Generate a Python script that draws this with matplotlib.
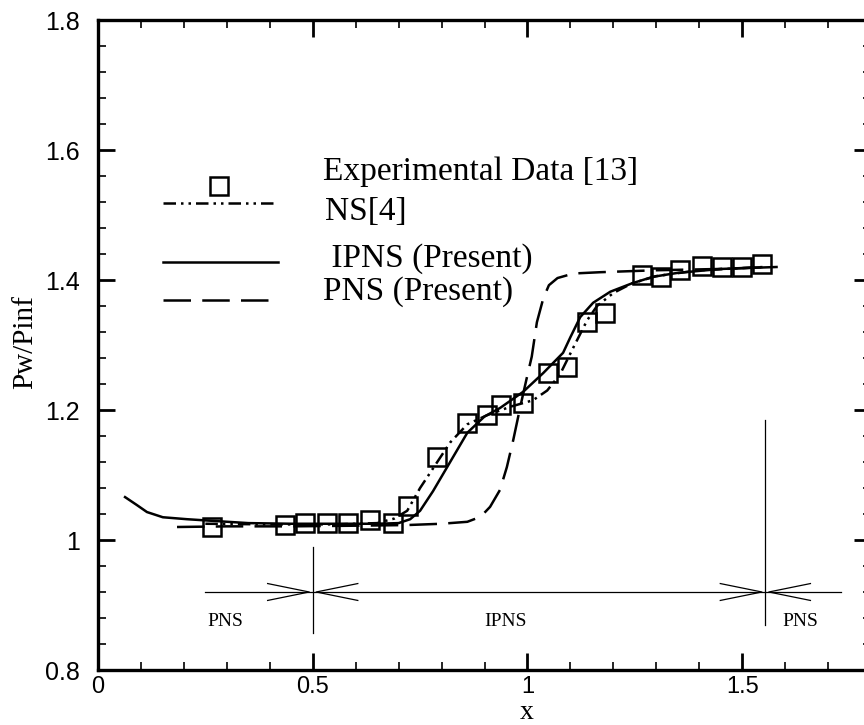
import matplotlib
matplotlib.use("Agg")
import matplotlib.pyplot as plt
from matplotlib.ticker import MultipleLocator, FixedLocator, FixedFormatter

# ---------------- data ----------------
exp_x = [0.266, 0.436, 0.482, 0.533, 0.582, 0.634, 0.687, 0.722, 0.790, 0.860,
         0.906, 0.939, 0.990, 1.048, 1.092, 1.139, 1.181, 1.267, 1.311, 1.356,
         1.407, 1.454, 1.500, 1.547]
exp_y = [1.020, 1.023, 1.026, 1.026, 1.026, 1.031, 1.026, 1.052, 1.128, 1.180,
         1.192, 1.208, 1.211, 1.257, 1.266, 1.335, 1.349, 1.408, 1.405, 1.415,
         1.422, 1.420, 1.420, 1.425]

ns_x = [0.25, 0.40, 0.55, 0.65, 0.69, 0.72, 0.75, 0.78, 0.82, 0.86, 0.906, 0.96,
        1.013, 1.046, 1.076, 1.106, 1.139, 1.162, 1.20, 1.244, 1.30, 1.40, 1.55]
ns_y = [1.025, 1.024, 1.024, 1.026, 1.033, 1.045, 1.080, 1.110, 1.150, 1.178,
        1.192, 1.205, 1.215, 1.230, 1.255, 1.295, 1.338, 1.360, 1.380, 1.395,
        1.406, 1.415, 1.420]

ipns_x = [0.063, 0.09, 0.114, 0.151, 0.207, 0.254, 0.35, 0.45, 0.55, 0.65, 0.70,
          0.727, 0.75, 0.78, 0.82, 0.86, 0.90, 0.936, 0.99, 1.037, 1.083, 1.10,
          1.123, 1.153, 1.193, 1.244, 1.293, 1.35, 1.45, 1.58]
ipns_y = [1.066, 1.054, 1.043, 1.035, 1.032, 1.030, 1.026, 1.025, 1.025, 1.025,
          1.026, 1.032, 1.045, 1.075, 1.120, 1.165, 1.190, 1.203, 1.228, 1.257,
          1.288, 1.312, 1.343, 1.365, 1.382, 1.395, 1.405, 1.411, 1.417, 1.420]

pns_x = [0.184, 0.30, 0.45, 0.60, 0.72, 0.80, 0.86, 0.88, 0.90, 0.913, 0.936, 0.952,
         0.967, 0.985, 0.999, 1.01, 1.022, 1.037, 1.05, 1.07, 1.107, 1.17, 1.30,
         1.45, 1.56]
pns_y = [1.020, 1.021, 1.021, 1.022, 1.023, 1.025, 1.028, 1.033, 1.042, 1.051,
         1.077, 1.112, 1.154, 1.210, 1.251, 1.282, 1.335, 1.372, 1.392, 1.403,
         1.410, 1.412, 1.415, 1.417, 1.420]

# region boundaries and arrow line
bound_x = [0.5, 1.554]
bound_lo = [0.857, 0.870]
bound_hi = [0.990, 1.185]
arrow_y = 0.92
arrow_x0, arrow_x1 = 0.25, 1.73
region_labels = ["PNS", "IPNS", "PNS"]
region_lx = [0.296, 0.948, 1.635]
region_ly = 0.875

xticks = [0, 0.5, 1, 1.5]
xtick_labels = ["0", "0.5", "1", "1.5"]
yticks = [0.8, 1.0, 1.2, 1.4, 1.6, 1.8]
ytick_labels = ["0.8", "1", "1.2", "1.4", "1.6", "1.8"]

legend_labels = ["Experimental Data [13]", "NS[4]", " IPNS (Present)", "PNS (Present)"]

# ---------------- figure ----------------
W, H = 864, 725
fig = plt.figure(figsize=(W / 100, H / 100), dpi=100)
ax_left, ax_right, ax_top, ax_bot = 98, 871, 20, 670
ax = fig.add_axes([ax_left / W, (H - ax_bot) / H, (ax_right - ax_left) / W, (ax_bot - ax_top) / H])

serif = "Liberation Serif"
sans = "Liberation Sans"
lw = 1.8

ax.plot(ns_x, ns_y, color="black", lw=lw, linestyle=(0, (5, 2, 1, 2, 1, 2)))
ax.plot(ipns_x, ipns_y, color="black", lw=lw, linestyle="-")
ax.plot(pns_x, pns_y, color="black", lw=lw, linestyle=(0, (11, 4.5)))
ax.plot(exp_x, exp_y, linestyle="none", marker="s", ms=13, mfc="none",
        mec="black", mew=1.8)

# region markers
thin = 0.9
for bx, lo, hi in zip(bound_x, bound_lo, bound_hi):
    ax.plot([bx, bx], [lo, hi], color="black", lw=thin)
ax.plot([arrow_x0, arrow_x1], [arrow_y, arrow_y], color="black", lw=thin)
dy = 0.013
for bx in bound_x:
    for sgn in (-1, 1):
        tipx = bx + sgn * 0.008
        tailx = bx + sgn * 0.105
        ax.plot([tailx, tipx, tailx], [arrow_y + dy, arrow_y, arrow_y - dy],
                color="black", lw=thin)
for lab, lx in zip(region_labels, region_lx):
    ax.text(lx, region_ly, lab, ha="center", va="center", fontsize=14,
            family=serif)

# axes styling
ax.set_xlim(0, 1.8)
ax.set_ylim(0.8, 1.8)
ax.xaxis.set_major_locator(FixedLocator(xticks))
ax.xaxis.set_major_formatter(FixedFormatter(xtick_labels))
ax.yaxis.set_major_locator(FixedLocator(yticks))
ax.yaxis.set_major_formatter(FixedFormatter(ytick_labels))
ax.xaxis.set_minor_locator(MultipleLocator(0.1))
ax.yaxis.set_minor_locator(MultipleLocator(0.04))
ax.tick_params(which="both", direction="in", top=True, right=True, colors="black")
ax.tick_params(which="major", length=12, width=2.0, labelsize=17, pad=4)
ax.tick_params(axis="y", which="major", pad=13, labelsize=18)
ax.tick_params(which="minor", length=6, width=1.2)
for lab in ax.get_xticklabels() + ax.get_yticklabels():
    lab.set_family(sans)
for sp in ax.spines.values():
    sp.set_linewidth(2.4)

ax.set_xlabel("x", fontsize=20, family=serif, va="baseline")
ax.xaxis.set_label_coords(0.555, -0.076)
ax.set_ylabel("Pw/Pinf", fontsize=21, family=serif, va="center")
ax.yaxis.set_label_coords(-0.094, 0.505)

# legend drawn by hand (positions in axes fraction)
T = ax.transAxes
ax.plot([0.157], [0.745], transform=T, marker="s", ms=13, mfc="none",
        mec="black", mew=1.8, linestyle="none")
ax.plot([0.084, 0.233], [0.718, 0.718], transform=T, color="black", lw=lw,
        linestyle=(0, (5, 2, 1, 2, 1, 2)))
ax.plot([0.084, 0.233], [0.628, 0.628], transform=T, color="black", lw=lw)
ax.plot([0.084, 0.233], [0.569, 0.569], transform=T, color="black", lw=lw,
        linestyle=(0, (11, 4.5)))
leg_x = [0.291, 0.294, 0.291, 0.291]
leg_y = [0.754, 0.692, 0.620, 0.569]
for lab, lx, ly in zip(legend_labels, leg_x, leg_y):
    ax.text(lx, ly, lab, transform=T, ha="left", va="baseline", fontsize=24,
            family=serif)

fig.savefig("out.png", dpi=100)
